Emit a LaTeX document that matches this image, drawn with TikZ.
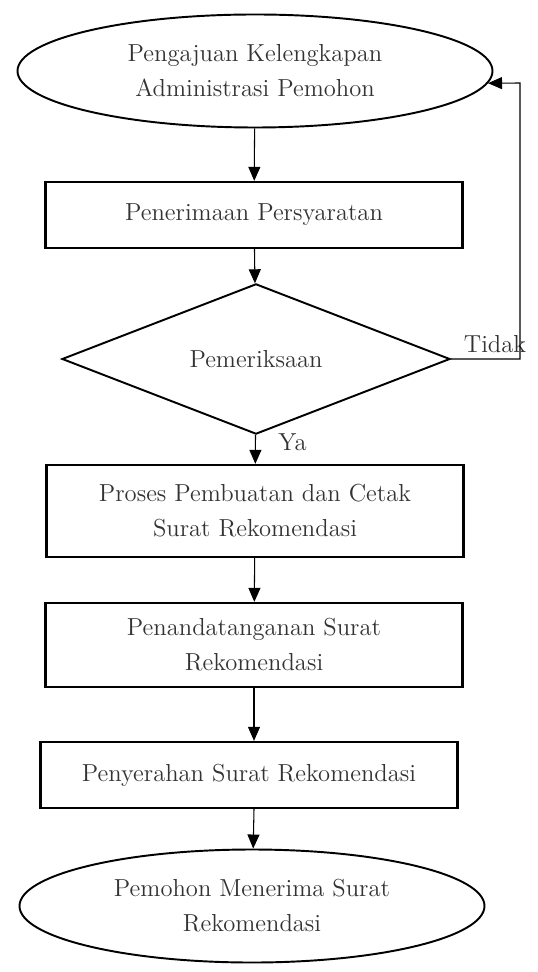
\documentclass[tikz,border=0pt]{standalone}
\usepackage{tikz}
\usetikzlibrary{shapes.geometric,arrows.meta}

\begin{document}
\begin{tikzpicture}[auto]
        \useasboundingbox (0,0) rectangle (10.74,-19.44);
        \tikzstyle{every node} = [font=\fontsize{14}{20}\selectfont, text=black!80, align=center];
        \tikzstyle{terminal} = [draw, ellipse, line width=1.1pt, minimum width=9.5cm, minimum height=2.26cm, inner sep=0pt];
        \tikzstyle{kotak} = [draw, rectangle, line width=1.3pt, minimum width=8.34cm];
        \tikzstyle{keputusan} = [draw, diamond, line width=1.1pt, minimum width=7.76cm, minimum height=2.56cm, inner sep=0pt];
        \tikzstyle{panah} = [line width=0.6pt, -{Triangle[length=2.8mm,width=2.4mm]}];
        \node[terminal](mulai) at (5.10,-1.42) {Pengajuan Kelengkapan\\Administrasi Pemohon};
        \node[kotak, minimum height=1.32cm](terima) at (5.08,-4.30) {Penerimaan Persyaratan};
        \node[keputusan](periksa) at (5.12,-7.18) {Pemeriksaan};
        \node[kotak, minimum height=1.84cm](proses) at (5.10,-10.22) {Proses Pembuatan dan Cetak\\Surat Rekomendasi};
        \node[kotak, minimum height=1.68cm](tanda) at (5.08,-12.90) {Penandatanganan Surat\\Rekomendasi};
        \node[kotak, minimum height=1.32cm](serah) at (4.98,-15.50) {Penyerahan Surat Rekomendasi};
        \node[terminal, minimum width=9.3cm](selesai) at (5.04,-18.12) {Pemohon Menerima Surat\\Rekomendasi};
        \coordinate (balik) at (10.40,-1.66);
        \node(tidak) at (9.90,-6.88) {Tidak};
        \node(ya) at (5.85,-8.84) {Ya};
        \path[panah]
        (mulai) edge (terima);
        \path[panah]
        (terima) edge (periksa);
        \path[panah]
        (periksa) edge (proses);
        \path[panah]
        (proses) edge (tanda);
        \path[panah]
        (tanda.south) edge (tanda.south |- serah.north);
        \path[panah]
        (serah.south -| tanda.south) edge (selesai);
        \draw[panah] (periksa.east) -| (balik) -- (mulai.-3);
\end{tikzpicture}
\end{document}
